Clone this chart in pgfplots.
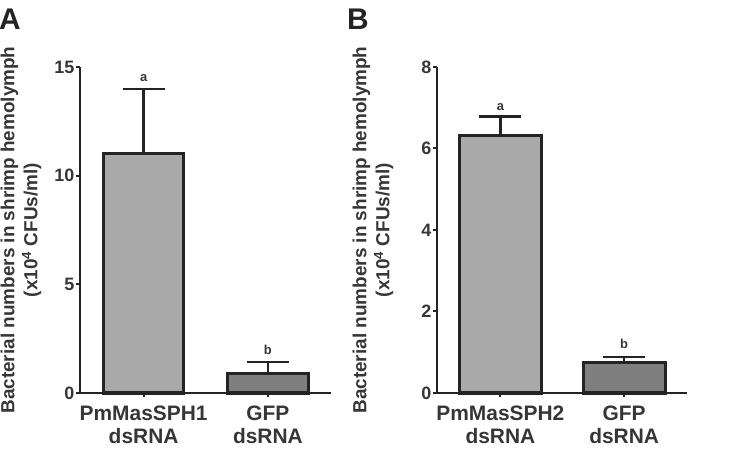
\documentclass[border=0pt]{standalone}
\usepackage{pgfplots}
\pgfplotsset{compat=1.18}
\usepackage{fontspec}
\setmainfont{Liberation Sans}

\definecolor{txt}{HTML}{363636}
\definecolor{ink}{HTML}{242424}
\definecolor{barlight}{HTML}{A9A9A9}
\definecolor{bardark}{HTML}{7F7F7F}

% bar data: value and upper error (x10^4 CFUs/ml)
\pgfplotstableread{
x y err
0 11.04 2.94
1 0.90 0.53
}\dataA
\pgfplotstableread{
x y err
0 6.31 0.47
1 0.76 0.12
}\dataB

\pgfplotsset{
  panel/.style={
    scale only axis,
    anchor=south west,
    height=326bp,
    axis lines=left,
    axis line style={line width=2.5bp, color=ink, -},
    tick align=outside,
    major tick length=4bp,
    tick style={line width=2bp, color=ink},
    xtick={0,1},
    ymin=0,
    xmin=-0.512, xmax=1.508,
    /pgf/number format/assume math mode=true,
    ticklabel style={font=\fontsize{18}{18}\selectfont\bfseries, text=txt},
    yticklabel style={inner sep=1.5bp},
    xticklabel style={align=center, inner sep=1bp, yshift=-8bp,
      font=\fontsize{21}{23}\selectfont\bfseries, text=txt},
    ylabel style={align=center,
      font=\fontsize{19}{23}\selectfont\bfseries, text=txt},
    clip=false,
  },
  barstyle/.style={ybar, bar shift=0pt, draw=ink, line width=3bp,
    error bars/.cd, y dir=plus, y explicit,
    error bar style={line width=2.5bp, color=ink},
    error mark options={rotate=90, line width=2.5bp, color=ink, mark size=21bp},
    /pgfplots/.cd},
}

\begin{document}
\begin{tikzpicture}
\path[use as bounding box] (0bp,0bp) rectangle (744bp,450bp);

% panel letters
\node[anchor=base west, inner sep=0, font=\fontsize{30}{30}\selectfont\bfseries, text=ink] at (-1bp,420bp) {A};
\node[anchor=base west, inner sep=0, font=\fontsize{30}{30}\selectfont\bfseries, text=ink] at (347bp,420bp) {B};

% panel A
\begin{axis}[panel, at={(80bp,57bp)}, width=251bp,
  ymax=15, ytick={0,5,10,15},
  xticklabels={PmMasSPH1\\dsRNA, GFP\\dsRNA},
  ylabel={Bacterial numbers in shrimp hemolymph\\(x10\textsuperscript{4} CFUs/ml)},
  ylabel style={at={(axis description cs:-0.235,0.5)}, anchor=center},
]
\addplot[barstyle, bar width=80bp, fill=barlight]
  table[x=x, y=y, y error=err, restrict expr to domain={\thisrow{x}}{0:0}] {\dataA};
\addplot[barstyle, bar width=81bp, fill=bardark]
  table[x=x, y=y, y error=err, restrict expr to domain={\thisrow{x}}{1:1}] {\dataA};
\node[anchor=base, font=\fontsize{13}{13}\selectfont\bfseries, text=txt] at (axis cs:0,14.31) {a};
\node[anchor=base, font=\fontsize{13}{13}\selectfont\bfseries, text=txt] at (axis cs:1,1.75) {b};
\end{axis}

% panel B
\begin{axis}[panel, at={(437bp,57bp)}, width=250bp,
  ymax=8, ytick={0,2,4,6,8},
  xticklabels={PmMasSPH2\\dsRNA, GFP\\dsRNA},
  ylabel={Bacterial numbers in shrimp hemolymph\\(x10\textsuperscript{4} CFUs/ml)},
  ylabel style={at={(axis description cs:-0.256,0.5)}, anchor=center},
]
\addplot[barstyle, bar width=82bp, fill=barlight]
  table[x=x, y=y, y error=err, restrict expr to domain={\thisrow{x}}{0:0}] {\dataB};
\addplot[barstyle, bar width=82bp, fill=bardark]
  table[x=x, y=y, y error=err, restrict expr to domain={\thisrow{x}}{1:1}] {\dataB};
\node[anchor=base, font=\fontsize{13}{13}\selectfont\bfseries, text=txt] at (axis cs:0,6.94) {a};
\node[anchor=base, font=\fontsize{13}{13}\selectfont\bfseries, text=txt] at (axis cs:1,1.10) {b};
\end{axis}
\end{tikzpicture}
\end{document}
